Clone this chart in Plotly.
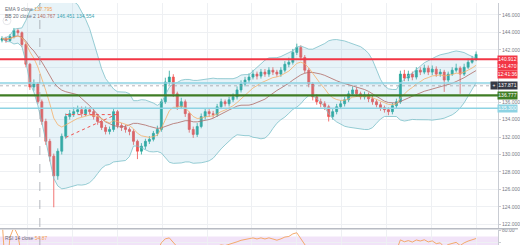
import numpy as np
import pandas as pd
import plotly.graph_objects as go

# ---------------- data ----------------
opens = [143.10, 143.28, 143.06, 143.51, 144.19, 143.96, 142.60, 140.34, 137.74, 138.08,
         136.04, 133.78, 131.51, 129.81, 127.55, 130.38, 132.08, 134.34, 134.68, 134.91,
         135.13, 134.68, 135.13, 134.91, 134.34, 133.78, 133.09, 132.64, 132.87, 134.91,
         133.32, 133.09, 132.87, 132.64, 131.51, 130.38, 130.95, 131.51, 131.74, 132.42,
         132.87, 136.04, 138.30, 138.87, 136.95, 135.47, 136.04, 134.68, 132.87, 132.30,
         133.21, 134.34, 134.91, 134.68, 134.57, 135.47, 136.04, 135.81, 136.27, 136.61,
         137.40, 138.08, 138.53, 138.87, 139.21, 138.98, 139.44, 139.21, 139.66, 139.44,
         139.21, 139.66, 140.34, 140.57, 141.70, 142.27, 141.13, 139.66, 138.08, 136.61,
         136.04, 135.81, 135.47, 134.34, 134.91, 135.47, 135.81, 136.27, 136.95, 137.40,
         136.95, 136.61, 136.83, 136.38, 136.04, 135.70, 135.36, 135.13, 134.91, 135.59,
         136.04, 139.21, 138.76, 139.21, 138.87, 139.66, 139.44, 139.89, 139.44, 139.78,
         139.21, 139.44, 138.53, 139.21, 139.66, 139.89, 139.21, 140.00, 140.57, 140.91]
closes = [143.28, 143.06, 143.51, 144.19, 143.96, 142.60, 140.34, 137.74, 138.08, 136.04,
          133.78, 131.51, 129.81, 127.55, 130.38, 132.08, 134.34, 134.68, 134.91, 135.13,
          134.68, 135.13, 134.91, 134.34, 133.78, 133.09, 132.64, 132.87, 134.91, 133.32,
          133.09, 132.87, 132.64, 131.51, 130.38, 130.95, 131.51, 131.74, 132.42, 132.87,
          136.04, 138.30, 138.87, 136.95, 135.47, 136.04, 134.68, 132.87, 132.30, 133.21,
          134.34, 134.91, 134.68, 134.57, 135.47, 136.04, 135.81, 136.27, 136.61, 137.40,
          138.08, 138.53, 138.87, 139.21, 138.98, 139.44, 139.21, 139.66, 139.44, 139.21,
          139.66, 140.34, 140.57, 141.70, 142.27, 141.13, 139.66, 138.08, 136.61, 136.04,
          135.81, 135.47, 134.34, 134.91, 135.47, 135.81, 136.27, 136.95, 137.40, 136.95,
          136.61, 136.83, 136.38, 136.04, 135.70, 135.36, 135.13, 134.91, 135.59, 136.04,
          139.21, 138.76, 139.21, 138.87, 139.66, 139.44, 139.89, 139.44, 139.78, 139.21,
          139.44, 138.53, 139.21, 139.66, 139.89, 139.21, 140.00, 140.57, 140.91, 141.47]
highs = [143.55, 143.50, 143.80, 144.50, 144.45, 144.10, 142.80, 140.50, 138.60, 138.30,
         136.30, 134.10, 131.80, 130.10, 130.70, 132.40, 134.70, 135.10, 135.40, 135.60,
         135.50, 135.50, 135.40, 135.20, 134.60, 134.00, 133.40, 133.20, 135.20, 135.10,
         133.60, 133.40, 133.10, 132.90, 131.70, 131.30, 131.80, 132.10, 132.70, 133.30,
         136.40, 138.80, 139.60, 139.20, 137.20, 136.50, 136.30, 134.90, 133.20, 133.60,
         134.70, 135.30, 135.20, 135.00, 135.80, 136.40, 136.30, 136.60, 137.00, 137.80,
         138.50, 138.90, 139.30, 139.70, 139.50, 139.80, 139.80, 140.00, 140.00, 139.70,
         140.00, 140.70, 141.10, 142.10, 142.70, 142.50, 141.40, 139.90, 138.30, 136.90,
         136.40, 136.10, 135.70, 135.20, 135.80, 136.20, 136.60, 137.30, 137.80, 137.70,
         137.20, 137.20, 137.10, 136.70, 136.30, 136.00, 135.60, 135.40, 135.90, 136.40,
         139.60, 139.70, 139.60, 139.50, 140.00, 140.00, 140.30, 140.20, 140.20, 140.10,
         139.80, 139.70, 139.50, 140.00, 140.40, 140.10, 140.40, 141.00, 141.30, 141.80]
lows = [142.85, 142.80, 142.90, 143.30, 143.70, 142.30, 140.00, 137.40, 137.30, 135.80,
        133.40, 131.10, 129.20, 123.95, 127.10, 130.00, 131.80, 134.00, 134.30, 134.60,
        134.30, 134.40, 134.60, 134.00, 133.40, 132.80, 132.30, 132.30, 132.60, 133.00,
        132.70, 132.50, 132.20, 131.10, 129.47, 130.00, 130.60, 131.20, 131.50, 132.10,
        132.60, 135.80, 138.00, 136.60, 135.10, 135.20, 134.30, 132.50, 131.90, 132.00,
        133.00, 134.00, 134.30, 134.20, 134.30, 135.20, 135.50, 135.50, 136.00, 136.30,
        137.10, 137.80, 138.20, 138.60, 138.60, 138.70, 138.90, 138.90, 139.10, 138.90,
        138.90, 139.40, 140.00, 140.30, 141.40, 140.80, 139.30, 137.70, 136.20, 135.70,
        135.40, 135.10, 133.78, 134.00, 134.60, 135.20, 135.50, 136.00, 136.70, 136.60,
        136.30, 136.30, 136.00, 135.70, 135.40, 135.00, 134.80, 134.50, 134.60, 135.30,
        135.80, 138.40, 138.40, 138.50, 138.60, 139.10, 139.20, 139.10, 139.10, 138.90,
        138.90, 137.17, 138.30, 139.00, 139.40, 136.95, 139.00, 139.80, 140.40, 140.70]
bars = list(range(len(closes)))

# horizontal levels drawn on the chart
level_red = 140.91
level_blue_top = 138.19
level_green = 136.777
level_blue_low = 135.30
crosshair_bar = 9.5
crosshair_price = 137.871

# dotted drawing (bar, price)
draw_h = [(16, 134.57), (29, 134.57)]
draw_d = [(16, 131.95), (28, 134.45)]

price_ticks = [122, 124, 126, 128, 130, 132, 134, 136, 138, 140, 142, 144, 146]
price_tick_text = ['122.000', '124.000', '126.000', '128.000', '130.000', '132.000', '134.000',
                   '136.000', '', '', '142.000', '144.000', '146.000']
rsi_ticks = [60, 80]
rsi_tick_text = ['60.00', '80.00']

# ---------------- indicators ----------------
s = pd.Series(closes)
ema9 = s.ewm(span=9, adjust=False).mean()
basis = s.rolling(20, min_periods=1).mean()
sd = s.rolling(20, min_periods=1).std(ddof=0).fillna(0)
upper = basis + 2 * sd
lower = basis - 2 * sd
delta = s.diff().fillna(0)
gain = delta.clip(lower=0).ewm(alpha=1 / 14, adjust=False).mean()
loss = (-delta.clip(upper=0)).ewm(alpha=1 / 14, adjust=False).mean()
rsi = 100 - 100 / (1 + gain / loss.replace(0, np.nan))
rsi = rsi.fillna(100)

# ---------------- figure ----------------
W, H = 520, 245
main_bottom = 1 - 228 / H
rsi_top = 1 - 229.5 / H
grid = '#eef0f3'
band_line = '#7cc0c9'
fig = go.Figure()

fig.add_trace(go.Scatter(x=bars, y=lower, mode='lines', line=dict(color=band_line, width=0.8),
                         hoverinfo='skip', showlegend=False))
fig.add_trace(go.Scatter(x=bars, y=upper, mode='lines', line=dict(color=band_line, width=0.8),
                         fill='tonexty', fillcolor='rgba(120,190,215,0.18)',
                         hoverinfo='skip', showlegend=False))
fig.add_trace(go.Scatter(x=bars, y=basis, mode='lines', line=dict(color='#b06b66', width=0.8),
                         hoverinfo='skip', showlegend=False))
fig.add_trace(go.Scatter(x=bars, y=ema9, mode='lines', line=dict(color='#f5b06a', width=0.8),
                         hoverinfo='skip', showlegend=False))
fig.add_trace(go.Candlestick(x=bars, open=opens, high=highs, low=lows, close=closes,
                             increasing=dict(line=dict(color='#26a69a', width=0.8), fillcolor='#26a69a'),
                             decreasing=dict(line=dict(color='#ef5350', width=0.8), fillcolor='#ef5350'),
                             whiskerwidth=0, showlegend=False))
fig.add_trace(go.Scatter(x=bars, y=rsi, mode='lines', line=dict(color='#f4a15c', width=0.9),
                         xaxis='x2', yaxis='y2', hoverinfo='skip', showlegend=False))

shapes = []
# RSI band
shapes.append(dict(type='rect', xref='paper', yref='y2', x0=0, x1=1, y0=30, y1=70,
                   fillcolor='#f1e3f8', line=dict(width=0), layer='below'))
# level lines
for val, col, wd in [(level_red, '#f23645', 2), (level_blue_top, '#8ed3e3', 1.6),
                     (level_green, '#3f7d25', 2.2), (level_blue_low, '#8ed3e3', 1.6)]:
    shapes.append(dict(type='line', xref='paper', yref='y', x0=0, x1=1, y0=val, y1=val,
                       line=dict(color=col, width=wd), layer='above'))
# dotted red drawings
for seg in (draw_h, draw_d):
    shapes.append(dict(type='line', xref='x', yref='y', x0=seg[0][0], y0=seg[0][1],
                       x1=seg[1][0], y1=seg[1][1], line=dict(color='#ef5350', width=1, dash='dot')))
# crosshair
shapes.append(dict(type='line', xref='paper', yref='y', x0=0, x1=1, y0=crosshair_price, y1=crosshair_price,
                   line=dict(color='#9598a1', width=0.7, dash='dot'), layer='above'))
shapes.append(dict(type='line', xref='x', yref='paper', x0=crosshair_bar, x1=crosshair_bar, y0=0, y1=1,
                   line=dict(color='#9598a1', width=0.7, dash='dash'), layer='above'))
# pane separator
shapes.append(dict(type='line', xref='paper', yref='paper', x0=0, x1=1 + 20 / 500,
                   y0=1 - 228.6 / H, y1=1 - 228.6 / H, line=dict(color='#b8bbc3', width=1.4)))
# legend collapse button
shapes.append(dict(type='circle', xref='paper', yref='paper', x0=3 / 500, x1=11 / 500,
                   y0=1 - 22 / H, y1=1 - 14 / H, line=dict(color='#d6d8de', width=0.6),
                   fillcolor='white'))

ann = []
font = 'Liberation Sans'
ann.append(dict(xref='paper', yref='paper', x=3 / 500, y=1 - 1 / H, xanchor='left', yanchor='top',
                text="EMA 9 close <span style='color:#f5a14f'>137.795</span>", showarrow=False,
                font=dict(size=5, color='#6a6d78', family=font)))
ann.append(dict(xref='paper', yref='paper', x=3 / 500, y=1 - 8 / H, xanchor='left', yanchor='top',
                text="BB 20 close 2 <span style='color:#b06b66'>140.767</span> "
                     "<span style='color:#3fa6b3'>146.451</span> <span style='color:#3fa6b3'>134.554</span>",
                showarrow=False, font=dict(size=5, color='#6a6d78', family=font)))
ann.append(dict(xref='paper', yref='paper', x=7 / 500, y=1 - 18 / H, xanchor='center', yanchor='middle',
                text="^", showarrow=False, font=dict(size=5, color='#6a6d78', family=font)))
ann.append(dict(xref='paper', yref='paper', x=3 / 500, y=1 - 233 / H, xanchor='left', yanchor='top',
                text="RSI 14 close <span style='color:#f5a14f'>54.87</span>", showarrow=False,
                font=dict(size=5, color='#6a6d78', family=font)))


def axlabel(y, text, bg, fc='white'):
    ann.append(dict(xref='paper', yref='y', x=1 + 20 / 500, y=y, xanchor='right', yanchor='middle',
                    text=text, showarrow=False, bgcolor=bg, width=19, height=6.5, borderpad=0,
                    font=dict(size=5, color=fc, family=font)))


px_per_price = 228 / (147.36 - 121.55)
axlabel(level_red, '140.912', '#f23645')
axlabel(level_red - 7.5 / px_per_price, '141.470', '#f23645')
axlabel(level_red - 15 / px_per_price, '12:41:36', '#f23645')
axlabel(crosshair_price, '137.871', '#363a45')
axlabel(level_green, '136.777', '#3f7d25')
axlabel(level_blue_low, '135.300', '#8ed3e3')
ann.append(dict(xref='paper', yref='y', x=1.0, y=crosshair_price, xanchor='right', yanchor='middle',
                text='+', showarrow=False, bgcolor='#363a45', width=6, height=6.5, borderpad=0,
                font=dict(size=5, color='white', family=font)))

fig.update_layout(
    width=W, height=H, margin=dict(l=0, r=20, t=0, b=0),
    paper_bgcolor='white', plot_bgcolor='white', showlegend=False,
    shapes=shapes, annotations=ann, hovermode=False,
    xaxis=dict(domain=[0, 1], range=[-0.5, 124.5], anchor='y', showgrid=True, gridcolor=grid,
               gridwidth=1, tick0=6.5, dtick=11.25, showticklabels=False, zeroline=False,
               rangeslider=dict(visible=False), ticks=''),
    xaxis2=dict(domain=[0, 1], range=[-0.5, 124.5], anchor='y2', matches='x', showgrid=True,
                gridcolor=grid, tick0=6.5, dtick=11.25, showticklabels=False, zeroline=False, ticks=''),
    yaxis=dict(domain=[main_bottom, 1], range=[121.55, 147.36], side='right', anchor='x',
               tickvals=price_ticks, ticktext=price_tick_text, showgrid=True, gridcolor=grid,
               zeroline=False, tickfont=dict(size=5, color='#787b86', family=font), showline=True,
               linecolor='#c9ccd3', linewidth=1, ticks='outside', ticklen=2, tickcolor='#c9ccd3'),
    yaxis2=dict(domain=[0, rsi_top], range=[56, 81], side='right', anchor='x2', tickvals=rsi_ticks,
                ticktext=rsi_tick_text, showgrid=True, gridcolor=grid, zeroline=False,
                tickfont=dict(size=5, color='#787b86', family=font), showline=True, linecolor='#c9ccd3',
                linewidth=1, ticks='outside', ticklen=2, tickcolor='#c9ccd3'),
)

fig.write_html('out.html')
